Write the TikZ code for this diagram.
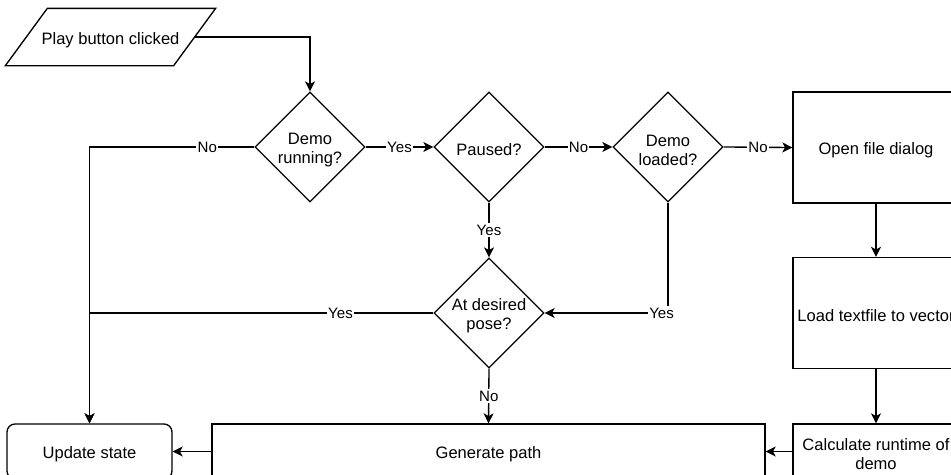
\documentclass[tikz,border=0pt]{standalone}
\usepackage{fontspec}
\setmainfont{Liberation Sans}
\usetikzlibrary{shapes.geometric,arrows.meta}
\begin{document}
\begin{tikzpicture}[x=0.75pt,y=-0.75pt,
  txt/.style={font=\fontsize{12.4}{14.3}\selectfont,align=center,inner sep=0pt,yshift=-2.25pt},
  base/.style={draw,line width=1pt,inner sep=2pt,label={[txt]center:{#1}}},
  io/.style={base=#1,draw=none,rectangle,minimum width=125.25pt,minimum height=42pt},
  slantbox/.style={line width=1pt},
  decision/.style={base=#1,diamond,minimum width=82.5pt,minimum height=82.5pt},
  process/.style={base=#1,rectangle,minimum width=124.5pt,minimum height=83.25pt},
  flat/.style={base=#1,rectangle,minimum height=41.25pt},
  arr/.style={line width=1pt,-{Stealth[length=7.5pt,width=7.5pt,inset=2pt]}},
  lbl/.style={fill=white,inner sep=1pt,font=\fontsize{11.3}{13}\selectfont}]

\useasboundingbox (0,0) rectangle (951,475);
\clip (0,0) rectangle (951,475);

% input (parallelogram drawn round its node)
\node[io={Play button clicked}] (play) at (110.5,37) {};
\draw[slantbox] ([xshift=15.75pt]play.north west) -- ([xshift=15.75pt]play.north east)
  -- ([xshift=-15.75pt]play.south east) -- ([xshift=-15.75pt]play.south west) -- cycle;

% decisions
\node[decision={Demo\\running?}] (run) at (310,147) {};
\node[decision={Paused?}] (paused) at (489,147) {};
\node[decision={Demo\\loaded?}] (loaded) at (668,147) {};
\node[decision={At desired\\pose?}] (pose) at (489,313) {};

% processes
\node[process={Open file dialog}] (open) at (876,147.5) {};
\node[process={Load textfile to vector}] (load) at (876,313) {};
\node[flat={Calculate runtime of\\demo},minimum width=124.5pt] (calc) at (876,451.5) {};
\node[flat={Generate path},minimum width=414.75pt] (gen) at (488.5,451.5) {};
\node[flat={Update state},minimum width=123.75pt,rounded corners=6pt] (update) at (89.5,451.5) {};

% connectors
\draw[arr] (play.east) -| (run.north);
\draw[arr] (run.west) -- node[lbl,pos=.285]{No} (run.west -| update.north) -- (update.north);
\draw[arr] (run.east) -- node[lbl]{Yes} (paused.west);
\draw[arr] (paused.east) -- node[lbl]{No} (loaded.west);
\draw[arr] (loaded.east) -- node[lbl]{No} (open.west);
\draw[arr] (paused.south) -- node[lbl]{Yes} (pose.north);
\draw[arr] (loaded.south) |- node[lbl,pos=.526]{Yes} (pose.east);
\draw[arr] (pose.west) -- node[lbl,pos=.27]{Yes} (pose.west -| update.north) -- (update.north);
\draw[arr] (pose.south) -- node[lbl]{No} (gen.north);
\draw[arr] (open.south) -- (load.north);
\draw[arr] (load.south) -- (calc.north);
\draw[arr] (calc.west) -- (gen.east);
\draw[arr] (gen.west) -- (update.east);
\end{tikzpicture}
\end{document}
